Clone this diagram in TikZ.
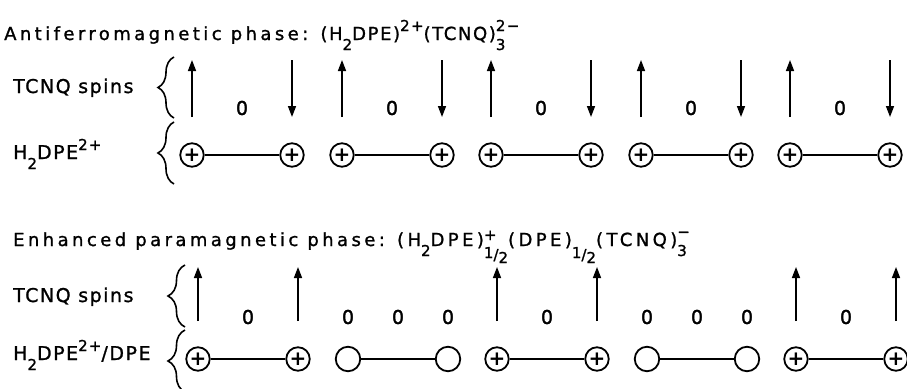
\documentclass[tikz,border=0pt]{standalone}
\usepackage{fontspec}
\setmainfont{DejaVu Sans}
\newfontfamily\ttlfont[LetterSpace=19,FakeBold=1.2]{DejaVu Sans}
\newfontfamily\frmfont[LetterSpace=9,FakeBold=1.2]{DejaVu Sans}
\newfontfamily\lblfont[LetterSpace=8,FakeBold=1.2]{DejaVu Sans}
\newfontfamily\zerofont[FakeBold=1.5]{DejaVu Sans}
\usetikzlibrary{arrows.meta,decorations.pathreplacing}
\newcommand{\scrsz}{\fontsize{15}{15}\selectfont}
\newcommand{\lsb}[1]{\raisebox{-10pt}{\scrsz #1}}
\newcommand{\lsp}[1]{\raisebox{9pt}{\scrsz #1}}
\newcommand{\lss}[2]{\rlap{\raisebox{9pt}{\scrsz #1}}\raisebox{-10pt}{\scrsz #2}}
\newcommand{\lhalf}{\raisebox{-12pt}{\scrsz 1}\raisebox{-14pt}{\scrsz /}\raisebox{-17pt}{\scrsz 2}}
\tikzset{
  ttl/.style={anchor=base west, inner sep=0pt, font=\ttlfont\fontsize{18}{18}\selectfont},
  lab/.style={anchor=base west, inner sep=0pt, font=\lblfont\fontsize{19}{19}\selectfont},
  spin/.style={line width=1.5pt, -{Triangle[length=11pt,width=8pt]}},
  zero/.style={inner sep=0pt, font=\zerofont\fontsize{19}{19}\selectfont},
  ion/.style={circle, draw, line width=1.8pt, minimum size=23.5pt, inner sep=0pt, font=\bfseries\fontsize{20}{20}\selectfont},
  neu/.style={circle, draw, line width=1.8pt, minimum size=24.5pt, inner sep=0pt},
  bond/.style={line width=1.5pt},
  brc/.style={decorate, decoration={brace, amplitude=#1, aspect=0.5}, line width=1.6pt},
}
\begin{document}
\begin{tikzpicture}[x=1pt, y=-1pt]
\useasboundingbox[fill=white] (0,0) rectangle (907,388);

% ---------- top panel ----------
\node[ttl] (t1) at (4,40) {Antiferromagnetic phase: {\frmfont\fontsize{18}{18}\selectfont(H\lsb{2}DPE)\lsp{2+}(TCNQ)\lss{2−}{3}}};
\node[lab] (l1) at (13,93) {TCNQ spins};
\node[lab] (l2) at (13,159) {H\lsb{2}DPE\lsp{2+}};
\draw[brc=16pt] (174,118) -- (174,57);
\draw[brc=16pt] (174,184) -- (174,122);

\foreach \k in {0,...,4} {
  \pgfmathsetmacro{\xa}{round(192+149.5*\k)}
  \pgfmathsetmacro{\xb}{\xa+100}
  \pgfmathsetmacro{\xm}{\xa+50}
  \coordinate (aub\k) at (\xa,117);
  \coordinate (aut\k) at (\xa,60);
  \coordinate (adt\k) at (\xb,60);
  \coordinate (adb\k) at (\xb,117);
  \draw[spin] (aub\k) -- (aut\k);
  \draw[spin] (adt\k) -- (adb\k);
  \node[zero] (z\k) at (\xm,108) {0};
  \node[ion] (pa\k) at (\xa,155) {+};
  \node[ion] (pb\k) at (\xb,155) {+};
  \draw[bond] (pa\k) -- (pb\k);
}

% ---------- bottom panel ----------
\node[ttl] (t2) at (13,246) {Enhanced paramagnetic phase: (H\lsb{2}DPE)\rlap{\raisebox{6pt}{\scrsz +}}\lhalf(DPE)\lhalf(TCNQ)\lss{−}{3}};
\node[lab] (l3) at (13,302) {TCNQ spins};
\node[lab] (l4) at (13,360) {H\lsb{2}DPE\lsp{2+}/DPE};
\draw[brc=17pt] (185,327) -- (185,265);
\draw[brc=17pt] (185,392) -- (185,330);

\foreach \k in {0,2,4} {
  \pgfmathsetmacro{\xa}{round(198+149.5*\k)}
  \pgfmathsetmacro{\xb}{\xa+100}
  \pgfmathsetmacro{\xm}{\xa+50}
  \coordinate (bua\k) at (\xa,321);
  \coordinate (buat\k) at (\xa,267);
  \coordinate (bub\k) at (\xb,321);
  \coordinate (bubt\k) at (\xb,267);
  \draw[spin] (bua\k) -- (buat\k);
  \draw[spin] (bub\k) -- (bubt\k);
  \node[zero] (bz\k) at (\xm,317) {0};
  \node[ion] (qa\k) at (\xa,359) {+};
  \node[ion] (qb\k) at (\xb,359) {+};
  \draw[bond] (qa\k) -- (qb\k);
}
\foreach \k in {1,3} {
  \pgfmathsetmacro{\xa}{round(198+149.5*\k)}
  \pgfmathsetmacro{\xb}{\xa+100}
  \pgfmathsetmacro{\xm}{\xa+50}
  \node[zero] (bzl\k) at (\xa,317) {0};
  \node[zero] (bzm\k) at (\xm,317) {0};
  \node[zero] (bzr\k) at (\xb,317) {0};
  \node[neu] (na\k) at (\xa,359) {};
  \node[neu] (nb\k) at (\xb,359) {};
  \draw[bond] (na\k) -- (nb\k);
}
\end{tikzpicture}
\end{document}
